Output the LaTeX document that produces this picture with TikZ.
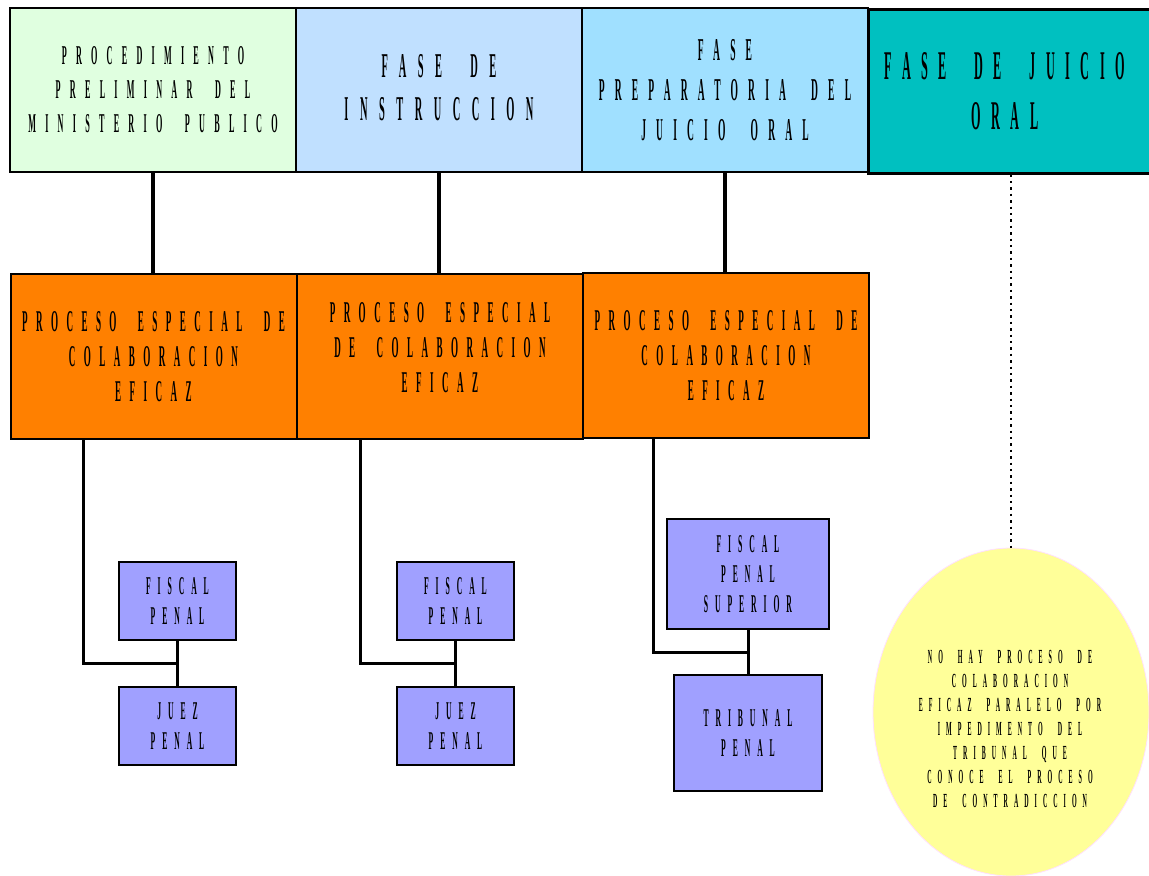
\documentclass[tikz,border=0pt]{standalone}
\usepackage{fontspec}
\usetikzlibrary{calc,shapes.geometric}
% narrow, widely tracked capitals
\newfontfamily\condfont{Liberation Serif}[FakeStretch=0.3, WordSpace=2]

\definecolor{phaseA}{RGB}{224,255,224}
\definecolor{phaseB}{RGB}{192,224,255}
\definecolor{phaseC}{RGB}{160,224,255}
\definecolor{phaseD}{RGB}{0,192,192}
\definecolor{procfill}{RGB}{255,128,0}
\definecolor{actorfill}{RGB}{160,160,255}
\definecolor{notefill}{RGB}{255,255,153}
\definecolor{noteline}{RGB}{255,224,255}

\newcommand\tracked[3]{\condfont\bfseries\fontsize{#1}{#2}\selectfont\addfontfeature{LetterSpace=#3}}

\tikzset{
  box/.style={draw=black, line width=1pt, inner sep=0pt, align=center},
  phase/.style={box, minimum width=143pt, minimum height=82pt},
  proc/.style={box, fill=procfill, minimum width=143pt, minimum height=82.5pt,
    font=\tracked{15.1}{17.5}{28}},
  actor/.style={box, fill=actorfill, minimum width=58.5pt, minimum height=39pt,
    font=\tracked{12.8}{15}{27}},
  label/.style={align=center, inner sep=0pt},
  link/.style={line width=1.5pt},
  stem/.style={line width=2pt},
}

\begin{document}
\begin{tikzpicture}[x=0.5pt, y=-0.5pt]
\useasboundingbox (0,0) rectangle (1149,875);

% phases of the proceedings
\node[phase, fill=phaseA, font=\tracked{13.6}{17}{34}] (t1) at (153,90)
  {PROCEDIMIENTO\\PRELIMINAR DEL\\MINISTERIO PUBLICO};
\node[phase, fill=phaseB] (t2) at (439,90) {};
\node[label, font=\tracked{17.4}{21.5}{33}] (t2t) at ([yshift=1pt]t2.center)
  {FASE DE\\INSTRUCCION};
\node[phase, fill=phaseC, font=\tracked{15.9}{20}{32}] (t3) at (725,90)
  {FASE\\PREPARATORIA DEL\\JUICIO ORAL};
\node[phase, fill=phaseD, line width=1.5pt] (t4) at (1011,91) {};
\node[label, font=\tracked{20.4}{25}{26}] (t4t) at ([xshift=-3pt]t4.center)
  {FASE DE JUICIO\\ORAL};

% special collaboration processes
\node[proc] (o1) at (153.5,356.5) {PROCESO ESPECIAL DE\\COLABORACION\\EFICAZ};
\node[proc] (o2) at (440,356.5) {};
\node[label, font=\tracked{15.1}{17.5}{28}] (o2t) at ([yshift=4.5pt]o2.center)
  {PROCESO ESPECIAL\\DE COLABORACION\\EFICAZ};
\node[proc] (o3) at (726,355.5) {PROCESO ESPECIAL DE\\COLABORACION\\EFICAZ};

% actors
\node[actor] (f1) at (177.5,601) {FISCAL\\PENAL};
\node[actor] (j1) at (177.5,726) {JUEZ\\PENAL};
\node[actor] (f2) at (455.5,601) {FISCAL\\PENAL};
\node[actor] (j2) at (455.5,726) {JUEZ\\PENAL};
\node[actor, minimum width=81pt, minimum height=55pt] (f3) at (748,574)
  {FISCAL\\PENAL\\SUPERIOR};
\node[actor, minimum width=74pt, minimum height=58pt] (j3) at (748,733)
  {TRIBUNAL\\PENAL};

% note for the oral trial
\node[ellipse, fill=notefill, draw=noteline, line width=0.4pt,
  minimum width=138pt, minimum height=164pt, inner sep=0pt] (ell) at (1011,712) {};
\node[label, font=\tracked{10}{12}{30}] (ellt) at (1010,729)
  {NO HAY PROCESO DE\\COLABORACION\\EFICAZ PARALELO POR\\IMPEDIMENTO DEL\\TRIBUNAL QUE\\CONOCE EL PROCESO\\DE CONTRADICCION};

% phase to process
\draw[stem] (t1.south) -- (t1.south |- o1.north);
\draw[stem] (t2.south) -- (t2.south |- o2.north);
\draw[stem] (t3.south) -- (t3.south |- o3.north);
\draw[dotted, line width=1.2pt] (t4.south) -- (ell.north);

% process to actors
\coordinate (k1) at ($(f1.south)!0.5!(j1.north)$);
\coordinate (k2) at ($(f2.south)!0.5!(j2.north)$);
\coordinate (k3) at ($(f3.south)!0.5!(j3.north)$);
\draw[link] (f1.south) -- (j1.north);
\draw[link] (f2.south) -- (j2.north);
\draw[link] (f3.south) -- (j3.north);
\draw[link] ([xshift=-35.25pt]o1.south) |- (k1);
\draw[link] ([xshift=-40pt]o2.south) |- (k2);
\draw[link] ([xshift=-36.5pt]o3.south) |- (k3);
\end{tikzpicture}
\end{document}
